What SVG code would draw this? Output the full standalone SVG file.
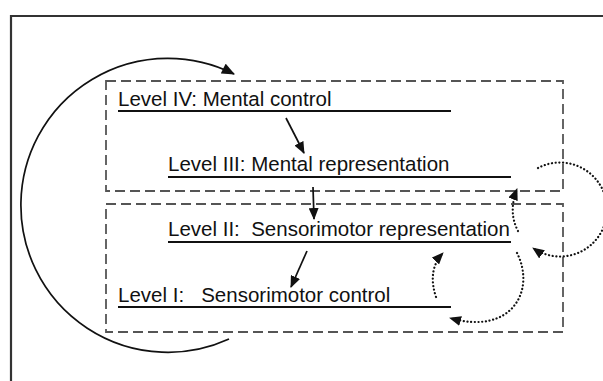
<svg xmlns="http://www.w3.org/2000/svg" width="603" height="381" viewBox="0 0 603 381">
<style>
.frame{fill:none;stroke:#333;stroke-width:2.2}
.box{fill:none;stroke:#555;stroke-width:1.8;stroke-dasharray:10 5}
.lbl{font-family:"Liberation Sans",Arial,sans-serif;font-size:20.5px;fill:#111;white-space:pre}
.ul{stroke:#111;stroke-width:2}
.solid{fill:none;stroke:#111;stroke-width:1.7}
.dot{fill:none;stroke:#111;stroke-width:2.2;stroke-dasharray:0.1 3.6;stroke-linecap:round}
</style>
<defs>
<marker id="ah" viewBox="0 0 12 10" refX="11" refY="5" markerWidth="14" markerHeight="11" markerUnits="userSpaceOnUse" orient="auto">
<path d="M0,0 L12,5 L0,10 z" fill="#111"/>
</marker>
<marker id="ahs" viewBox="0 0 12 10" refX="11" refY="5" markerWidth="12" markerHeight="10" markerUnits="userSpaceOnUse" orient="auto">
<path d="M0,0 L12,5 L0,10 z" fill="#111"/>
</marker>
</defs>
<rect width="603" height="381" fill="#fff"/>
<path class="frame" d="M11,381 V16 H603"/>
<g id="box-mental"><rect class="box" x="106" y="81" width="457" height="110"/></g>
<g id="box-sensorimotor"><rect class="box" x="106" y="204" width="457" height="128"/></g>
<g id="level4">
<text class="lbl" x="118" y="106">Level IV: Mental control</text>
<line class="ul" x1="118" y1="111" x2="451" y2="111"/>
</g>
<g id="level3">
<text class="lbl" x="168" y="171">Level III: Mental representation</text>
<line class="ul" x1="168" y1="177" x2="511" y2="177"/>
</g>
<g id="level2">
<text class="lbl" x="168" y="236">Level II:  Sensorimotor representation</text>
<line class="ul" x1="168" y1="242" x2="511" y2="242"/>
</g>
<g id="level1">
<text class="lbl" x="118" y="302">Level I:   Sensorimotor control</text>
<line class="ul" x1="118" y1="307" x2="451" y2="307"/>
</g>
<g id="connectors">
<path class="solid" d="M229,339 A147,147 0 1 1 234,74" marker-end="url(#ah)"/>
<path class="solid" d="M286,118 L304,153" marker-end="url(#ahs)"/>
<path class="solid" d="M313,187 L314,219" marker-end="url(#ahs)"/>
<path class="solid" d="M307,251 L291,287" marker-end="url(#ahs)"/>
<path class="dot" d="M538,168 A47,47 0 1 1 533,248" marker-end="url(#ahs)"/>
<path class="dot" d="M518,231 Q508,212 517,189" marker-end="url(#ahs)"/>
<path class="dot" d="M517,253 C536,290 512,336 450,318" marker-end="url(#ahs)"/>
<path class="dot" d="M436,297 Q427,270 443,253" marker-end="url(#ahs)"/>
</g>
</svg>
